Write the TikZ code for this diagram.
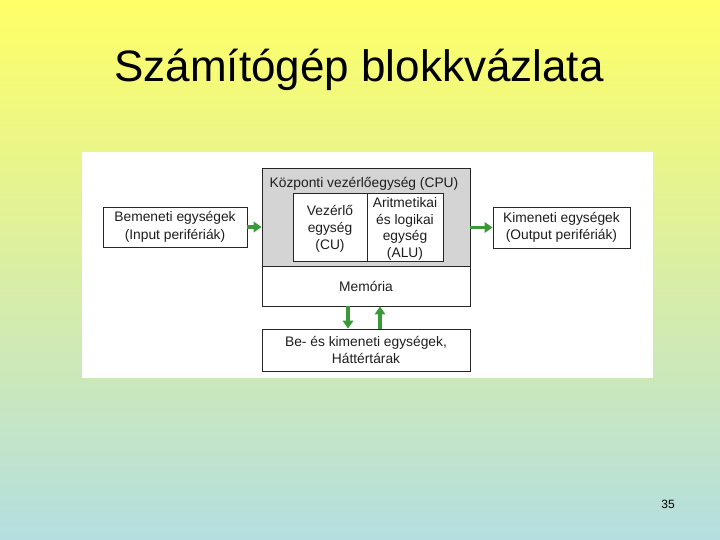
\documentclass[tikz,border=0pt]{standalone}
\usepackage{fontspec}
\setmainfont{Liberation Sans}
\usetikzlibrary{arrows.meta}
\definecolor{bgtop}{RGB}{255,255,102}
\definecolor{bgbot}{RGB}{180,222,224}
\definecolor{cpugray}{RGB}{212,212,212}
\definecolor{arrgreen}{RGB}{58,154,58}
\definecolor{txt}{RGB}{30,30,30}
\tikzset{
  blk/.style={draw=black!85, line width=0.9pt, fill=white, inner sep=0pt, align=center,
    text=txt, font=\fontsize{13.8}{17.3}\selectfont},
  garrow/.style={draw=arrgreen, line width=3.8pt, -{Triangle[length=8pt,width=10.5pt]}}
}
\begin{document}
\begin{tikzpicture}[x=1pt,y=-1pt]
\shade[top color=bgtop, bottom color=bgbot] (0,0) rectangle (720,540);
\useasboundingbox (0,0) rectangle (720,540);
\node[font=\fontsize{44}{50}\selectfont, anchor=base, text=black] (title) at (359,82) {Számítógép blokkvázlata};
\fill[white] (82,152) rectangle (653,378);
% boxes
\node[blk, minimum width=144, minimum height=40] (inp) at (175,227) {Bemeneti egységek\\(Input perifériák)};
\node[blk, fill=cpugray, minimum width=208, minimum height=98] (cpu) at (366,217) {};
\node[font=\fontsize{13.8}{17.3}\selectfont, text=txt] (cpul) at (364,184) {Központi vezérlőegység (CPU)};
\node[blk, minimum width=74, minimum height=68] (cu) at (330,227) {};
\node[align=center, text=txt, font=\fontsize{13.8}{17.3}\selectfont, inner sep=0pt] (cut) at (330,229) {Vezérlő\\egység\\(CU)};
\node[blk, minimum width=76, minimum height=68] (alu) at (405,227) {};
\node[align=center, text=txt, font=\fontsize{13.8}{16.8}\selectfont, inner sep=0pt] (alut) at (405,229) {Aritmetikai\\és logikai\\egység\\(ALU)};
\node[blk, minimum width=208, minimum height=40] (mem) at (366,286) {Memória};
\node[blk, minimum width=208, minimum height=42] (io) at (366,350) {Be- és kimeneti egységek,\\Háttértárak};
\node[blk, minimum width=137, minimum height=41] (out) at (561.5,227.5) {Kimeneti egységek\\(Output perifériák)};
% arrows
\draw[garrow] (inp.east) -- (inp.east -| cpu.west);
\draw[garrow] (cpu.east |- out.west) -- (out.west);
\draw[garrow] ([xshift=-18pt]mem.south) -- ([xshift=-18pt]mem.south |- io.north);
\draw[garrow] ([xshift=14pt]io.north) -- ([xshift=14pt]io.north |- mem.south);
\node[font=\fontsize{12}{14}\selectfont, text=black] (pg) at (668,504) {35};
\end{tikzpicture}
\end{document}
